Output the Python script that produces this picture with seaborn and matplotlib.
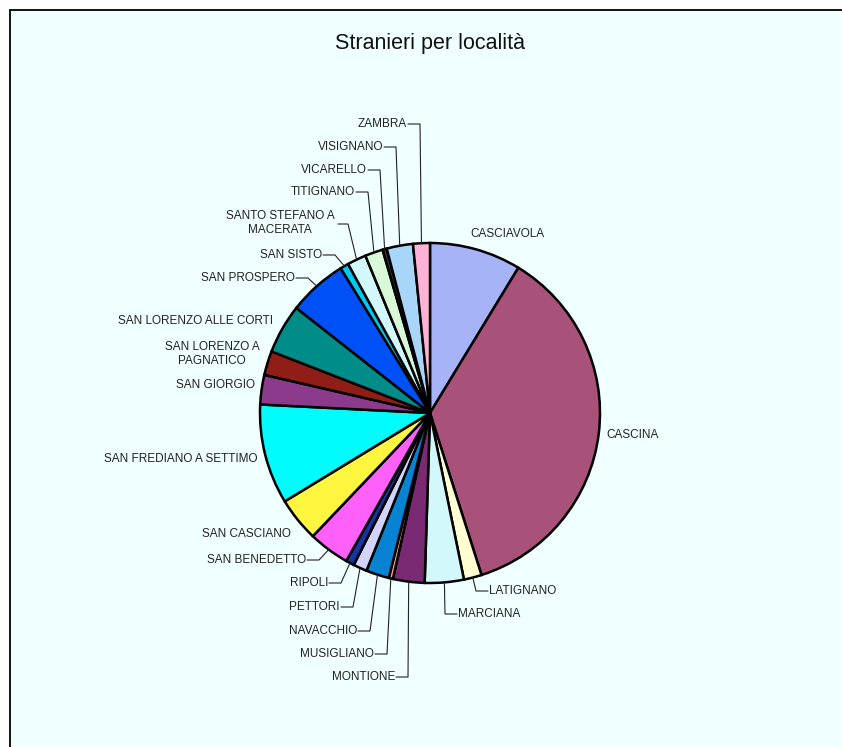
import numpy as np
import matplotlib
matplotlib.use('Agg')
import matplotlib.pyplot as plt
from matplotlib.patches import Rectangle
import seaborn as sns

sns.set_style('white')
plt.rcParams['font.family'] = ['Liberation Sans', 'DejaVu Sans']

# data (share of foreigners per locality, per mille)
localita = ['CASCIAVOLA', 'CASCINA', 'LATIGNANO', 'MARCIANA', 'MONTIONE',
            'MUSIGLIANO', 'NAVACCHIO', 'PETTORI', 'RIPOLI', 'SAN BENEDETTO',
            'SAN CASCIANO', 'SAN FREDIANO A SETTIMO', 'SAN GIORGIO',
            'SAN LORENZO A PAGNATICO', 'SAN LORENZO ALLE CORTI', 'SAN PROSPERO',
            'SAN SISTO', 'SANTO STEFANO A MACERATA', 'TITIGNANO', 'VICARELLO',
            'VISIGNANO', 'ZAMBRA']
stranieri = [87, 364, 17, 37, 30, 4, 22, 13, 8, 39, 42, 95, 28, 23, 47, 56,
             8, 18, 17, 4, 25, 16]

colori = ['#a6b3f6', '#a8527a', '#ffffd2', '#d2f8fc', '#7a2a72', '#ff9482',
          '#0882d2', '#d4d4fa', '#1834a0', '#ff60fa', '#fff640', '#00fcfc',
          '#8c3a8c', '#901e16', '#008c88', '#0050f8', '#00c8f0', '#d2f8fc',
          '#d8f8d8', '#303030', '#a8d6f8', '#ffb2d8']

# label layout in image pixels: (text x, text y, align, leader)
W, H = 842, 747
layout = {
    'CASCIAVOLA': (507, 234, 'center', False),
    'CASCINA': (606, 435, 'left', False),
    'LATIGNANO': (489, 591, 'left', True),
    'MARCIANA': (458, 614, 'left', True),
    'MONTIONE': (395, 677, 'right', True),
    'MUSIGLIANO': (374, 654, 'right', True),
    'NAVACCHIO': (357, 631, 'right', True),
    'PETTORI': (340, 607, 'right', True),
    'RIPOLI': (328, 583, 'right', True),
    'SAN BENEDETTO': (306, 560, 'right', True),
    'SAN CASCIANO': (246, 534, 'center', False),
    'SAN FREDIANO A SETTIMO': (258, 459, 'right', False),
    'SAN GIORGIO': (255, 385, 'right', False),
    'SAN LORENZO A PAGNATICO': (212, 354, 'center', False),
    'SAN LORENZO ALLE CORTI': (196, 321, 'center', False),
    'SAN PROSPERO': (295, 278, 'right', True),
    'SAN SISTO': (322, 255, 'right', True),
    'SANTO STEFANO A MACERATA': (280, 223, 'center', True),
    'TITIGNANO': (355, 192, 'right', True),
    'VICARELLO': (367, 170, 'right', True),
    'VISIGNANO': (383, 147, 'right', True),
    'ZAMBRA': (407, 124, 'right', True),
}
testo = {
    'SAN LORENZO A PAGNATICO': 'SAN LORENZO A\nPAGNATICO',
    'SANTO STEFANO A MACERATA': 'SANTO STEFANO A\nMACERATA',
}

cx, cy, r = 430, H - 413, 170

fig = plt.figure(figsize=(W / 100, H / 100), dpi=100, facecolor='white')
fig.patches.append(Rectangle((10 / W, -0.1), 1.2, 1.1 - 10 / H,
                             transform=fig.transFigure, facecolor='#f0ffff',
                             edgecolor='black', linewidth=1.3, zorder=-1))
ax = fig.add_axes([0, 0, 1, 1])

wedges, _ = ax.pie(stranieri, colors=sns.color_palette(colori),
                   startangle=90, counterclock=False, center=(cx, cy),
                   radius=r, frame=True,
                   wedgeprops=dict(edgecolor='black', linewidth=1.8))
ax.set_xlim(0, W)
ax.set_ylim(0, H)
ax.set_aspect('equal')
ax.axis('off')

for w, nome in zip(wedges, localita):
    tx, ty, ha, leader = layout[nome]
    ty = H - ty
    ax.text(tx, ty, testo.get(nome, nome), ha=ha, va='center', fontsize=8.5,
            color='#222222', multialignment='center', linespacing=1.25)
    if leader:
        mid = np.deg2rad((w.theta1 + w.theta2) / 2)
        px, py = cx + r * np.cos(mid), cy + r * np.sin(mid)
        if nome == 'SANTO STEFANO A MACERATA':
            x0, ey = 338, H - 224
            ex = x0 + 10
        elif ha == 'right':
            x0, ey = tx + 1, ty
            ex = x0 + 12
        else:
            x0, ey = tx - 1, ty
            ex = x0 - 12
        ax.plot([x0, ex, px], [ey, ey, py], color='#222222', lw=0.8)

fig.text(430 / W, 1 - 43 / H, 'Stranieri per località', ha='center',
         va='center', fontsize=15.5, color='#111111')

fig.savefig('out.png', dpi=100, facecolor=fig.get_facecolor())
